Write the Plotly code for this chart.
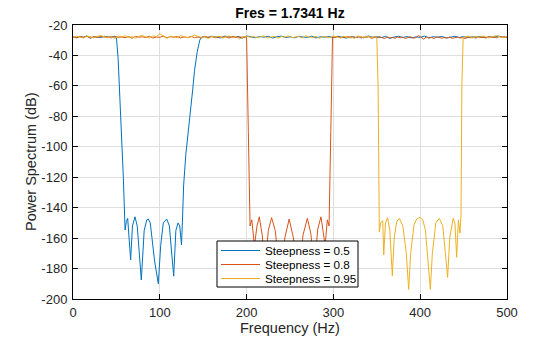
import numpy as np
import plotly.graph_objects as go

# ---------------- data ----------------
title_text = "Fres = 1.7341 Hz"
x_label = "Frequency (Hz)"
y_label = "Power Spectrum (dB)"
names = ["Steepness = 0.5", "Steepness = 0.8", "Steepness = 0.95"]
colors = ["#0072BD", "#D95319", "#EDB120"]
x_tick_vals = [0, 100, 200, 300, 400, 500]
x_tick_text = ["0", "100", "200", "300", "400", "500"]
y_tick_vals = [-200, -180, -160, -140, -120, -100, -80, -60, -40, -20]
y_tick_text = ["-200", "-180", "-160", "-140", "-120", "-100", "-80", "-60", "-40", "-20"]

# Steepness 0.5 (blue)
blue_pass1_f = np.arange(0, 49, 4)
blue_pass1_db = [-27.8, -28.3, -27.5, -28.0, -27.2, -28.6, -27.7, -27.9, -28.2, -27.4, -28.1, -27.6, -28.0]
blue_stop_f = [50, 52, 55, 58, 60, 61.5, 63, 66.4, 68.5, 71.4, 74, 78.7, 82, 85, 86.8, 89, 91, 94, 98.3,
               101, 104, 108, 111, 116, 118.5, 121, 123, 125, 126, 127.5, 130, 132, 135, 138, 140, 143, 146, 148]
blue_stop_db = [-28.0, -42, -80, -120, -154.7, -149, -147, -174.4, -152, -146, -152, -187.5, -155, -148,
                -147.5, -150, -160, -175, -190, -165, -150, -147.5, -152, -185, -155, -150, -152, -164.5,
                -150, -125, -105, -95, -78, -62, -50, -38, -30, -28.0]
blue_pass2_f = np.arange(150, 501, 5)
blue_pass2_db = [-27.6, -28.2, -27.4, -27.9, -28.5, -27.3, -27.8, -28.1, -27.5, -28.7,
                 -27.2, -27.9, -28.3, -27.6, -28.0, -27.4, -28.6, -27.7, -27.3, -28.2,
                 -27.8, -28.4, -27.5, -27.9, -28.1, -27.3, -28.5, -27.7, -28.0, -27.6,
                 -28.3, -27.4, -27.9, -28.6, -27.5, -28.1, -27.8, -28.4, -27.2, -28.0,
                 -27.7, -28.3, -27.5, -28.8, -27.9, -27.4, -28.2, -27.6, -28.5, -27.8,
                 -28.1, -27.3, -28.4, -27.7, -28.0, -27.5, -28.6, -27.9, -27.4, -28.2,
                 -27.6, -28.3, -27.8, -28.0, -27.5, -28.4, -27.7, -28.1, -27.3, -27.9, -28.0]

# Steepness 0.8 (orange)
orange_pass1_f = np.arange(0, 197, 4)
orange_pass1_db = [-27.9, -28.4, -27.6, -28.1, -27.3, -28.6, -27.8, -28.2, -27.5, -28.0,
                   -27.7, -28.5, -27.4, -28.1, -27.9, -28.3, -27.6, -28.7, -27.5, -28.0,
                   -27.8, -28.2, -27.4, -28.6, -27.9, -28.1, -27.3, -28.4, -27.7, -28.0,
                   -27.6, -28.5, -27.8, -28.2, -27.5, -28.3, -27.9, -28.6, -27.4, -28.1,
                   -27.7, -28.4, -27.6, -28.0, -27.8, -28.5, -27.5, -28.2, -27.9, -28.0]
orange_stop_f = [200, 202, 204, 206, 209, 212, 214.6, 218, 221, 225, 228.8, 233, 239, 244, 249, 254,
                 260, 265, 270, 274, 278, 282, 285.7, 288, 290.5, 293, 295, 297, 299]
orange_stop_db = [-28.0, -90, -152, -148, -165, -152, -146, -158, -180, -155, -146.6, -155, -188, -160,
                  -147.5, -160, -188, -158, -147, -157, -180, -154, -146, -155, -165, -148, -152, -90, -28.0]
orange_pass2_f = np.arange(302, 501, 3)
orange_pass2_db = [-28.1, -27.7, -28.4, -27.9, -28.2, -27.6, -28.5, -27.8, -28.3, -27.5,
                   -28.6, -27.9, -28.2, -27.7, -28.8, -28.0, -28.4, -27.6, -28.3, -28.9,
                   -27.8, -28.5, -28.1, -28.7, -27.9, -28.4, -28.0, -28.9, -28.2, -27.7,
                   -28.6, -28.3, -26.9, -28.1, -29.3, -27.9, -28.6, -28.2, -28.9, -27.8,
                   -28.4, -28.7, -28.1, -28.5, -27.9, -28.8, -28.3, -28.0, -28.6, -28.2,
                   -29.0, -27.9, -28.4, -28.1, -28.6, -27.8, -28.3, -28.0, -28.5, -27.7,
                   -28.2, -27.9, -28.4, -27.6, -28.1, -27.8, -28.3]

# Steepness 0.95 (yellow)
yellow_pass1_f = np.arange(0, 349, 4)
yellow_pass1_db = [-28.1, -27.4, -27.9, -28.6, -27.2, -27.8, -28.3, -27.5, -26.9, -27.7,
                   -28.4, -27.6, -28.9, -27.3, -27.8, -27.1, -28.2, -27.6, -28.7, -27.4,
                   -26.8, -27.9, -28.5, -27.2, -27.7, -25.8, -27.5, -28.8, -27.3, -27.9,
                   -28.3, -27.0, -27.6, -28.4, -27.8, -26.6, -27.5, -28.2, -27.7, -28.9,
                   -27.4, -28.0, -27.3, -28.6, -27.8, -27.2, -28.3, -27.6, -29.2, -27.9,
                   -27.3, -28.1, -27.5, -28.4, -27.7, -27.1, -28.5, -27.8, -27.4, -28.7,
                   -27.6, -28.0, -27.2, -28.3, -27.9, -27.5, -28.6, -27.1, -27.8, -28.2,
                   -27.4, -28.8, -27.6, -27.9, -28.3, -27.2, -27.7, -28.5, -27.4, -28.1,
                   -27.6, -28.9, -27.3, -27.8, -28.2, -27.5, -28.0, -27.7]
yellow_stop_f = [350, 351.5, 352.9, 354.5, 356.8, 358, 360, 362.4, 365, 367.9, 370, 373, 376, 380, 384,
                 386.7, 389, 393, 396, 399.8, 403, 406, 409, 411.7, 414, 418, 422, 426, 429, 431.6, 434,
                 438, 440, 442, 444, 445.8, 447, 448, 449.5]
yellow_stop_db = [-28.5, -60, -155.8, -150, -148.6, -171, -150, -146.6, -155, -184.7, -160, -149, -147,
                  -152, -170, -193.7, -170, -151, -147.5, -146.4, -148, -155, -175, -193.7, -170, -150,
                  -147, -152, -170, -185.8, -160, -147, -150, -172.6, -148, -156.7, -145, -60, -28.0]
yellow_pass2_f = np.arange(452, 501, 4)
yellow_pass2_db = [-27.9, -27.3, -28.4, -27.6, -28.1, -27.2, -27.8, -28.5, -27.4, -27.0, -27.9, -28.2, -27.6]

# ---------------- figure ----------------
series = [
    (blue_pass1_f, blue_pass1_db, blue_stop_f, blue_stop_db, blue_pass2_f, blue_pass2_db),
    (orange_pass1_f, orange_pass1_db, orange_stop_f, orange_stop_db, orange_pass2_f, orange_pass2_db),
    (yellow_pass1_f, yellow_pass1_db, yellow_stop_f, yellow_stop_db, yellow_pass2_f, yellow_pass2_db),
]

W, H = 560, 337
L, R, T, B = 73, 53, 25, 38
PW, PH = W - L - R, H - T - B


def px(xp):
    return (xp - L) / PW


def py(yp):
    return (H - B - yp) / PH


fig = go.Figure()
for (f1, d1, fs, ds, f2, d2), name, col in zip(series, names, colors):
    x = list(f1) + list(fs) + list(f2)
    y = list(d1) + list(ds) + list(d2)
    fig.add_trace(go.Scatter(x=x, y=y, mode="lines", name=name, showlegend=False,
                             line=dict(color=col, width=1)))

font_family = "Liberation Sans, Arial, Helvetica, sans-serif"
axis_common = dict(showline=True, linecolor="black", linewidth=1, mirror="ticks",
                   ticks="inside", ticklen=5, tickcolor="black", automargin=False,
                   showgrid=True, gridcolor="#dfdfdf", gridwidth=1, zeroline=False,
                   tickfont=dict(size=13, color="#262626", family=font_family))

# manual legend box (MATLAB style, compact rows)
shapes = [dict(type="rect", xref="paper", yref="paper", x0=px(217), x1=px(358), y0=py(287), y1=py(241),
               line=dict(color="black", width=1), fillcolor="white", layer="above")]
annotations = []
row_y = [250.5, 264.5, 278.5]
for name, col, ry in zip(names, colors, row_y):
    shapes.append(dict(type="line", xref="paper", yref="paper", x0=px(221), x1=px(260), y0=py(ry), y1=py(ry),
                       line=dict(color=col, width=1), layer="above"))
    annotations.append(dict(text=name, xref="paper", yref="paper", x=px(263), y=py(ry),
                            xanchor="left", yanchor="middle", showarrow=False,
                            font=dict(size=11.7, color="black", family=font_family)))

# axis titles as positioned text
annotations.append(dict(text=x_label, xref="paper", yref="paper", x=px(290), y=py(328),
                        xanchor="center", yanchor="middle", showarrow=False,
                        font=dict(size=14.5, color="#262626", family=font_family)))
annotations.append(dict(text=y_label, xref="paper", yref="paper", x=px(31), y=py(162),
                        xanchor="center", yanchor="middle", showarrow=False, textangle=-90,
                        font=dict(size=14.5, color="#262626", family=font_family)))

fig.update_layout(
    width=W, height=H,
    margin=dict(l=L, r=R, t=T, b=B),
    plot_bgcolor="white", paper_bgcolor="white",
    title=dict(text="<b>" + title_text + "</b>", x=(L + PW / 2) / W, xanchor="center",
               y=1 - 13 / H, yanchor="middle", yref="container",
               font=dict(size=14, color="black", family=font_family)),
    xaxis=dict(range=[0, 500], tickvals=x_tick_vals, ticktext=x_tick_text, ticklabelstandoff=1,
               **axis_common),
    yaxis=dict(range=[-200, -20], tickvals=y_tick_vals, ticktext=y_tick_text, ticklabelstandoff=2,
               **axis_common),
    shapes=shapes,
    annotations=annotations,
    showlegend=False,
)

fig.write_html("out.html")
